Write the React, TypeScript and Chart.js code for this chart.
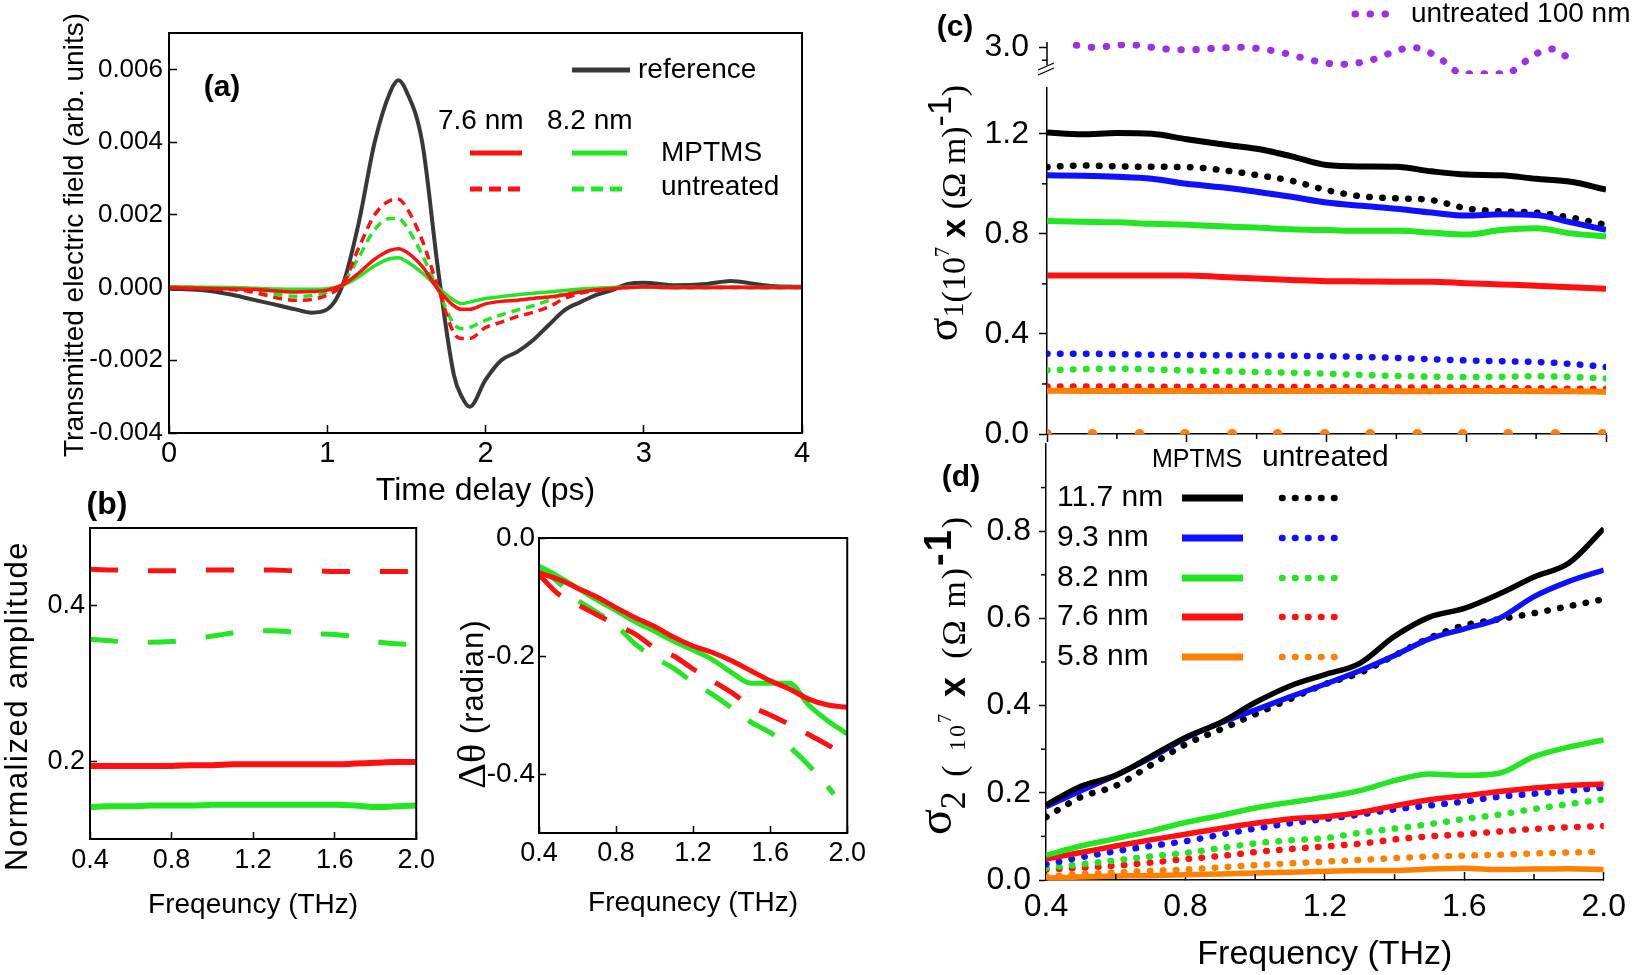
import React, { useEffect, useRef } from 'react';
import { Chart, registerables } from 'chart.js';

Chart.register(...registerables);

const SANS = '"Liberation Sans", Arial, Helvetica, sans-serif';
const SERIF = '"Liberation Serif", "Times New Roman", serif';

const RED = '#ff1010';
const GREEN = '#22e622';
const BLUE = '#1010ff';
const BLACK = '#000000';
const ORANGE = '#ff8000';
const PURPLE = '#9b30e8';
const GREY = '#383838';

// ===== (a) transmitted field vs time delay =====
const A_TIME = [0, 0.2, 0.4, 0.5, 0.6, 0.7, 0.8, 0.9, 1.0, 1.1, 1.2, 1.3, 1.4, 1.45, 1.5, 1.6, 1.7, 1.8, 1.85, 1.9, 2.0, 2.1, 2.2, 2.3, 2.4, 2.5, 2.6, 2.7, 2.8, 2.9, 3.0, 3.2, 3.4, 3.55, 3.7, 3.8, 4.0];
const A_REFERENCE = [-0.00003, -0.00007, -0.0002, -0.0003, -0.0004, -0.0005, -0.0006, -0.00069, -0.0006, 0.0001, 0.0018, 0.004, 0.0054, 0.0057, 0.0054, 0.004, 0.0005, -0.0024, -0.003, -0.00328, -0.00254, -0.002, -0.00177, -0.00145, -0.00103, -0.00062, -0.0004, -0.0002, -0.00007, 0.0001, 0.00013, 0.00006, 0.0001, 0.00018, 0.0001, 0.00004, 0.00002];
const A_MPTMS_76 = [0, -0.00002, -0.00004, -0.00005, -0.00007, -0.0001, -0.00012, -0.00011, -0.00007, 0.00008, 0.0004, 0.00078, 0.00103, 0.00107, 0.00098, 0.00058, -0.00005, -0.0005, -0.0006, -0.0006, -0.00045, -0.00038, -0.00035, -0.0003, -0.00026, -0.0002, -0.00012, -0.00006, -0.00003, 0, 0.00002, 0, 0, 0.00001, 0, 0, 0];
const A_MPTMS_82 = [0.00002, 0.00001, 0, -0.00001, -0.00003, -0.00004, -0.00005, -0.00005, -0.00003, 0.00006, 0.0003, 0.0006, 0.0008, 0.00082, 0.00072, 0.0004, 0, -0.00035, -0.00044, -0.0004, -0.0003, -0.00025, -0.0002, -0.00016, -0.00012, -0.00008, -0.00004, -0.00002, 0, 0.00001, 0.00001, 0, 0, 0, 0, 0, 0];
const A_UNTREATED_76 = [0, -0.00003, -0.00006, -0.0001, -0.0002, -0.0003, -0.00035, -0.00033, -0.0002, 0.0001, 0.0011, 0.002, 0.0024, 0.00243, 0.0022, 0.0013, 0, -0.00125, -0.0014, -0.0014, -0.0011, -0.00095, -0.0008, -0.00068, -0.00053, -0.0003, -0.00016, -0.00008, -0.00003, 0, 0.00001, 0, 0, 0, 0, 0, 0];
const A_UNTREATED_82 = [0.00002, 0, -0.00003, -0.00006, -0.00012, -0.0002, -0.00024, -0.00022, -0.00012, 0.00013, 0.00084, 0.0016, 0.0019, 0.0019, 0.00168, 0.0009, -0.00007, -0.001, -0.00113, -0.0011, -0.0009, -0.00075, -0.00062, -0.0005, -0.00035, -0.00016, -0.00008, -0.00003, 0, 0, 0, 0, 0, 0, 0, 0, 0];
const A_X_TICKS = [0, 1, 2, 3, 4];
const A_Y_TICKS = [-0.004, -0.002, 0, 0.002, 0.004, 0.006];

// ===== (b) amplitude and phase =====
const B_FREQ = [0.4, 0.5, 0.6, 0.7, 0.8, 0.9, 1.0, 1.1, 1.2, 1.3, 1.4, 1.5, 1.6, 1.7, 1.8, 1.9, 2.0];
const B_AMP_UNTREATED_76 = [0.447, 0.446, 0.446, 0.445, 0.445, 0.446, 0.446, 0.446, 0.446, 0.446, 0.445, 0.445, 0.444, 0.444, 0.444, 0.444, 0.444];
const B_AMP_UNTREATED_82 = [0.357, 0.355, 0.353, 0.353, 0.354, 0.357, 0.361, 0.365, 0.368, 0.368, 0.366, 0.364, 0.363, 0.36, 0.354, 0.351, 0.35];
const B_AMP_MPTMS_76 = [0.194, 0.194, 0.194, 0.194, 0.194, 0.195, 0.195, 0.196, 0.196, 0.196, 0.196, 0.196, 0.196, 0.197, 0.198, 0.199, 0.199];
const B_AMP_MPTMS_82 = [0.141, 0.142, 0.142, 0.143, 0.143, 0.143, 0.144, 0.144, 0.144, 0.144, 0.144, 0.144, 0.144, 0.143, 0.141, 0.142, 0.143];
const B_PH_MPTMS_76 = [-0.059, -0.07, -0.085, -0.1, -0.118, -0.135, -0.15, -0.168, -0.183, -0.194, -0.208, -0.225, -0.242, -0.256, -0.273, -0.283, -0.287];
const B_PH_MPTMS_82 = [-0.048, -0.065, -0.085, -0.105, -0.123, -0.142, -0.158, -0.175, -0.19, -0.206, -0.228, -0.246, -0.246, -0.246, -0.283, -0.31, -0.332];
const B_PH_UNTREATED_76 = [-0.062, -0.095, -0.113, -0.13, -0.147, -0.163, -0.186, -0.2, -0.222, -0.242, -0.262, -0.285, -0.3, -0.316, -0.333, -0.351, -0.369];
const B_FREQ_UNTREATED_82 = [0.4, 0.5, 0.6, 0.7, 0.8, 0.9, 1.0, 1.1, 1.2, 1.3, 1.4, 1.5, 1.6, 1.7, 1.8, 1.9, 1.93];
const B_PH_UNTREATED_82 = [-0.05, -0.075, -0.105, -0.126, -0.148, -0.18, -0.203, -0.221, -0.245, -0.265, -0.288, -0.312, -0.33, -0.354, -0.385, -0.422, -0.434];
const B_X_TICKS = [0.4, 0.8, 1.2, 1.6, 2.0];
const B_AMP_TICKS = [0.2, 0.4];
const B_PH_TICKS = [0, -0.2, -0.4];

// ===== (c) sigma1 =====
const C_FREQ = [0.4, 0.5, 0.6, 0.7, 0.8, 0.9, 1.0, 1.1, 1.2, 1.3, 1.4, 1.5, 1.6, 1.7, 1.8, 1.9, 2.0];
const C_MPTMS_117 = [1.205, 1.198, 1.203, 1.2, 1.178, 1.158, 1.14, 1.11, 1.075, 1.069, 1.068, 1.05, 1.037, 1.034, 1.02, 1.008, 0.977];
const C_MPTMS_93 = [1.034, 1.032, 1.028, 1.02, 1.0, 0.986, 0.968, 0.948, 0.925, 0.912, 0.9, 0.885, 0.873, 0.878, 0.875, 0.846, 0.816];
const C_MPTMS_82 = [0.851, 0.848, 0.846, 0.84, 0.836, 0.83, 0.825, 0.818, 0.815, 0.812, 0.812, 0.805, 0.797, 0.815, 0.822, 0.802, 0.789];
const C_MPTMS_76 = [0.634, 0.634, 0.634, 0.634, 0.634, 0.628, 0.622, 0.616, 0.611, 0.61, 0.609, 0.609, 0.603, 0.598, 0.593, 0.587, 0.581];
const C_MPTMS_58 = [0.173, 0.172, 0.172, 0.172, 0.172, 0.172, 0.172, 0.172, 0.172, 0.172, 0.171, 0.171, 0.172, 0.172, 0.171, 0.171, 0.169];
const C_UNTREATED_117 = [1.067, 1.073, 1.07, 1.068, 1.067, 1.055, 1.035, 1.012, 0.975, 0.95, 0.942, 0.935, 0.902, 0.89, 0.885, 0.865, 0.836];
const C_UNTREATED_93 = [0.321, 0.321, 0.319, 0.317, 0.316, 0.315, 0.314, 0.313, 0.311, 0.308, 0.304, 0.299, 0.294, 0.291, 0.288, 0.28, 0.268];
const C_UNTREATED_82 = [0.255, 0.259, 0.261, 0.258, 0.254, 0.251, 0.248, 0.245, 0.241, 0.236, 0.232, 0.229, 0.228, 0.229, 0.231, 0.228, 0.222];
const C_UNTREATED_76 = [0.19, 0.19, 0.19, 0.189, 0.189, 0.188, 0.188, 0.188, 0.187, 0.187, 0.186, 0.186, 0.185, 0.184, 0.183, 0.181, 0.18];
const C_FREQ_UNTREATED_58 = [0.4, 0.53, 0.665, 0.795, 0.93, 1.06, 1.195, 1.325, 1.46, 1.59, 1.72, 1.855, 1.99];
const C_UNTREATED_58 = [0, 0, 0, 0, 0, 0, 0, 0, 0, 0, 0, 0, 0];
const C_FREQ_100 = [0.484, 0.53, 0.57, 0.615, 0.66, 0.7, 0.74, 0.78, 0.83, 0.87, 0.91, 0.955, 0.997, 1.04, 1.08, 1.12, 1.16, 1.2, 1.245, 1.285, 1.33, 1.364, 1.405, 1.445, 1.48, 1.517, 1.547, 1.585, 1.65, 1.72, 1.745, 1.775, 1.81, 1.848, 1.88, 1.91];
const C_UNTREATED_100 = [3.016, 3.0, 3.006, 3.019, 3.016, 3.0, 2.987, 2.981, 2.983, 2.99, 2.996, 3.0, 2.993, 2.977, 2.954, 2.927, 2.899, 2.877, 2.869, 2.877, 2.902, 2.936, 2.977, 3.0, 2.977, 2.927, 2.869, 2.796, 2.795, 2.796, 2.842, 2.902, 2.963, 2.987, 2.94, 2.874];
const C_X_TICKS = [0.4, 0.8, 1.2, 1.6, 2.0];
const C_X_MINOR = [0.6, 1.0, 1.4, 1.8];
const C_Y_TICKS = [0, 0.4, 0.8, 1.2];
const C_Y_MINOR = [0.2, 0.6, 1.0];
const C_UPPER_TICKS = [3.0];
const C_UPPER_MINOR = [2.9];

// ===== (d) sigma2 =====
const D_FREQ = [0.4, 0.5, 0.6, 0.7, 0.8, 0.9, 1.0, 1.1, 1.2, 1.3, 1.4, 1.5, 1.6, 1.7, 1.8, 1.9, 2.0];
const D_MPTMS_117 = [0.172, 0.215, 0.24, 0.283, 0.327, 0.361, 0.407, 0.445, 0.471, 0.497, 0.559, 0.603, 0.623, 0.656, 0.695, 0.727, 0.806];
const D_MPTMS_93 = [0.168, 0.205, 0.24, 0.28, 0.325, 0.36, 0.39, 0.42, 0.449, 0.48, 0.515, 0.553, 0.576, 0.6, 0.65, 0.685, 0.711];
const D_MPTMS_82 = [0.057, 0.078, 0.095, 0.112, 0.132, 0.148, 0.165, 0.178, 0.19, 0.205, 0.228, 0.243, 0.24, 0.245, 0.283, 0.305, 0.321];
const D_MPTMS_76 = [0.048, 0.063, 0.078, 0.092, 0.105, 0.118, 0.13, 0.14, 0.145, 0.155, 0.17, 0.184, 0.193, 0.203, 0.211, 0.217, 0.22];
const D_MPTMS_58 = [0.004, 0.007, 0.009, 0.01, 0.012, 0.014, 0.016, 0.018, 0.02, 0.022, 0.022, 0.025, 0.027, 0.024, 0.025, 0.026, 0.024];
const D_UNTREATED_117 = [0.144, 0.19, 0.216, 0.263, 0.311, 0.345, 0.38, 0.415, 0.449, 0.475, 0.515, 0.555, 0.584, 0.598, 0.612, 0.628, 0.644];
const D_UNTREATED_93 = [0.036, 0.052, 0.066, 0.078, 0.089, 0.104, 0.118, 0.13, 0.14, 0.15, 0.162, 0.171, 0.18, 0.191, 0.198, 0.205, 0.212];
const D_UNTREATED_82 = [0.028, 0.036, 0.045, 0.054, 0.062, 0.073, 0.084, 0.091, 0.096, 0.108, 0.118, 0.128, 0.14, 0.15, 0.163, 0.174, 0.185];
const D_UNTREATED_76 = [0.024, 0.028, 0.033, 0.04, 0.048, 0.055, 0.064, 0.071, 0.077, 0.083, 0.093, 0.1, 0.105, 0.111, 0.117, 0.121, 0.124];
const D_UNTREATED_58 = [0.008, 0.013, 0.017, 0.021, 0.024, 0.029, 0.034, 0.038, 0.042, 0.046, 0.05, 0.054, 0.056, 0.058, 0.061, 0.063, 0.065];
const D_X_TICKS = [0.4, 0.8, 1.2, 1.6, 2.0];
const D_X_MINOR = [0.6, 1.0, 1.4, 1.8];
const D_Y_TICKS = [0, 0.2, 0.4, 0.6, 0.8];
const D_Y_MINOR = [0.1, 0.3, 0.5, 0.7, 0.9];
const D_LEGEND_ROWS = ['11.7 nm', '9.3 nm', '8.2 nm', '7.6 nm', '5.8 nm'];

// ---------- helpers ----------
const DOT = [0.5, 12.5];

function series(label: string, xs: number[], ys: number[], color: string, width: number, dash: number[] = [], cap: string = 'butt') {
  return {
    label,
    data: xs.map((x, i) => ({ x, y: ys[i] })),
    borderColor: color,
    backgroundColor: color,
    borderWidth: width,
    borderDash: dash,
    borderCapStyle: cap,
    pointRadius: 0,
    pointHoverRadius: 0,
    cubicInterpolationMode: 'monotone',
    fill: false,
  };
}

type AxisOpt = {
  min: number; max: number; ticks: number[]; fmt: (v: number) => string; size: number; horizontal: boolean;
  fontSize: number; tickLen: number; pad: number; border?: boolean; display?: boolean;
  title?: string; titleSize?: number; titlePadBottom?: number;
};

function axis(o: AxisOpt) {
  return {
    type: 'linear',
    display: o.display ?? true,
    min: o.min,
    max: o.max,
    afterBuildTicks: (s: any) => { s.ticks = o.ticks.map((v) => ({ value: v })); },
    afterFit: (s: any) => { if (o.horizontal) s.height = o.size; else s.width = o.size; },
    grid: { display: true, drawOnChartArea: false, drawTicks: true, tickLength: o.tickLen, tickColor: '#000', tickWidth: 1.5 },
    border: { display: !!o.border, color: '#000', width: 1.5 },
    ticks: {
      autoSkip: false, maxRotation: 0, minRotation: 0, padding: o.pad, color: '#000',
      font: { family: SANS, size: o.fontSize, lineHeight: 1 },
      callback: (v: any) => o.fmt(Number(v)),
    },
    title: o.title
      ? { display: true, text: o.title, color: '#000', font: { family: SANS, size: o.titleSize, lineHeight: 1 }, padding: { top: 0, bottom: o.titlePadBottom ?? 0 } }
      : { display: false },
  };
}

type Run = { text: string; font: string; dy?: number; ls?: number };
type Txt = { text?: string; font?: string; ls?: number; runs?: Run[]; x: number; y: number; align?: string; rotate?: number; baseline?: string; color?: string };
type Smp = { ds: number; x1: number; x2: number; y: number; width?: number; dash?: number[] };

function runWidth(ctx: CanvasRenderingContext2D, r: Run) {
  ctx.font = r.font;
  const ls = r.ls || 0;
  if (!ls) return ctx.measureText(r.text).width;
  let w = 0;
  for (const ch of r.text) w += ctx.measureText(ch).width + ls;
  return w;
}

function overlayPlugin(ox: number, oy: number, texts: Txt[], samples: Smp[] = []) {
  return {
    id: 'overlay',
    afterDraw(chart: any) {
      const ctx = chart.ctx as CanvasRenderingContext2D;
      samples.forEach((s) => {
        const ds = chart.data.datasets[s.ds];
        ctx.save();
        ctx.strokeStyle = ds.borderColor;
        ctx.lineWidth = s.width ?? ds.borderWidth;
        ctx.setLineDash(s.dash ?? ds.borderDash ?? []);
        ctx.lineCap = ds.borderCapStyle || 'butt';
        ctx.beginPath();
        ctx.moveTo(s.x1 - ox, s.y - oy);
        ctx.lineTo(s.x2 - ox, s.y - oy);
        ctx.stroke();
        ctx.restore();
      });
      texts.forEach((t) => {
        ctx.save();
        ctx.translate(t.x - ox, t.y - oy);
        if (t.rotate) ctx.rotate(t.rotate);
        ctx.fillStyle = t.color || '#000';
        ctx.textBaseline = (t.baseline || 'middle') as CanvasTextBaseline;
        ctx.textAlign = 'left';
        const runs: Run[] = t.runs || [{ text: t.text || '', font: t.font || `24px ${SANS}`, ls: t.ls }];
        let total = 0;
        runs.forEach((r) => { total += runWidth(ctx, r); });
        let cx = t.align === 'center' ? -total / 2 : t.align === 'right' ? -total : 0;
        runs.forEach((r) => {
          ctx.font = r.font;
          if (r.ls) {
            for (const ch of r.text) {
              ctx.fillText(ch, cx, r.dy || 0);
              cx += ctx.measureText(ch).width + r.ls;
            }
          } else {
            ctx.fillText(r.text, cx, r.dy || 0);
            cx += ctx.measureText(r.text).width;
          }
        });
        ctx.restore();
      });
    },
  };
}

function framePlugin() {
  return {
    id: 'frame',
    afterDatasetsDraw(chart: any) {
      const { ctx, chartArea: a } = chart;
      ctx.save();
      ctx.strokeStyle = '#000';
      ctx.lineWidth = 2;
      ctx.strokeRect(a.left, a.top, a.right - a.left, a.bottom - a.top);
      ctx.restore();
    },
  };
}

function minorPlugin(xs: number[], xLen: number, ys: number[], yLen: number) {
  return {
    id: 'minor',
    afterDraw(chart: any) {
      const { ctx, chartArea: a, scales } = chart;
      ctx.save();
      ctx.strokeStyle = '#000';
      ctx.lineWidth = 1.5;
      xs.forEach((v) => {
        const p = scales.x.getPixelForValue(v);
        ctx.beginPath(); ctx.moveTo(p, a.bottom); ctx.lineTo(p, a.bottom + xLen); ctx.stroke();
      });
      ys.forEach((v) => {
        const p = scales.y.getPixelForValue(v);
        ctx.beginPath(); ctx.moveTo(a.left, p); ctx.lineTo(a.left - yLen, p); ctx.stroke();
      });
      ctx.restore();
    },
  };
}

function breakPlugin(gap: number) {
  return {
    id: 'axisBreak',
    afterDraw(chart: any) {
      const { ctx, chartArea: a } = chart;
      const x = a.left;
      const yEnd = a.bottom - gap;
      ctx.save();
      ctx.strokeStyle = '#000';
      ctx.lineWidth = 1.5;
      ctx.beginPath(); ctx.moveTo(x, a.top); ctx.lineTo(x, yEnd); ctx.stroke();
      ctx.lineWidth = 1.3;
      [0, 5].forEach((d) => {
        ctx.beginPath(); ctx.moveTo(x - 9, yEnd + 5 + d); ctx.lineTo(x + 7, yEnd - 2 + d); ctx.stroke();
      });
      ctx.restore();
    },
  };
}

function baseOptions(padding: any, scales: any) {
  return {
    animation: false,
    responsive: false,
    maintainAspectRatio: false,
    devicePixelRatio: 1,
    events: [],
    layout: { padding },
    plugins: { legend: { display: false }, tooltip: { enabled: false } },
    scales,
  };
}

const f1 = (v: number) => v.toFixed(1);
const f3 = (v: number) => v.toFixed(3);
const ROT = -Math.PI / 2;

// ---------- panel configs ----------
function makeA() {
  const ox = 0, oy = 0;
  return {
    type: 'line',
    data: {
      datasets: [
        series('7.6 nm MPTMS', A_TIME, A_MPTMS_76, RED, 3.5),
        series('8.2 nm MPTMS', A_TIME, A_MPTMS_82, GREEN, 3.5),
        series('7.6 nm untreated', A_TIME, A_UNTREATED_76, RED, 3.5, [9, 6]),
        series('8.2 nm untreated', A_TIME, A_UNTREATED_82, GREEN, 3.5, [9, 6]),
        series('reference', A_TIME, A_REFERENCE, GREY, 4),
      ],
    },
    options: baseOptions({ left: 0, top: 33, right: 28, bottom: 0 }, {
      x: axis({ min: 0, max: 4, ticks: A_X_TICKS, fmt: (v) => String(v), size: 77, horizontal: true, fontSize: 29, tickLen: -8, pad: 14, title: 'Time delay (ps)', titleSize: 32, titlePadBottom: 3 }),
      y: axis({ min: -0.004, max: 0.007, ticks: A_Y_TICKS, fmt: f3, size: 169, horizontal: false, fontSize: 26, tickLen: -8, pad: 14 }),
    }),
    plugins: [
      framePlugin(),
      overlayPlugin(ox, oy, [
        { text: 'Transmitted electric field (arb. units)', font: `28px ${SANS}`, x: 75, y: 235, align: 'center', rotate: ROT },
        { text: '(a)', font: `bold 30px ${SANS}`, x: 222, y: 88, align: 'center' },
        { text: 'reference', font: `28px ${SANS}`, x: 638, y: 70 },
        { text: '7.6 nm', font: `28px ${SANS}`, x: 438, y: 121 },
        { text: '8.2 nm', font: `28px ${SANS}`, x: 547, y: 121 },
        { text: 'MPTMS', font: `28px ${SANS}`, x: 661, y: 153 },
        { text: 'untreated', font: `28px ${SANS}`, x: 661, y: 187 },
      ], [
        { ds: 4, x1: 572, x2: 630, y: 70, width: 5 },
        { ds: 0, x1: 470, x2: 522, y: 153, width: 5 },
        { ds: 1, x1: 572, x2: 627, y: 153, width: 5 },
        { ds: 2, x1: 470, x2: 522, y: 189, width: 5, dash: [12, 7] },
        { ds: 3, x1: 572, x2: 627, y: 189, width: 5, dash: [12, 7] },
      ]),
    ],
  };
}

function makeB1() {
  const ox = 0, oy = 470;
  return {
    type: 'line',
    data: {
      datasets: [
        series('7.6 nm MPTMS', B_FREQ, B_AMP_MPTMS_76, RED, 6),
        series('8.2 nm MPTMS', B_FREQ, B_AMP_MPTMS_82, GREEN, 6),
        series('7.6 nm untreated', B_FREQ, B_AMP_UNTREATED_76, RED, 5, [28, 30]),
        series('8.2 nm untreated', B_FREQ, B_AMP_UNTREATED_82, GREEN, 5, [28, 30]),
      ],
    },
    options: baseOptions({ left: 0, top: 58, right: 17, bottom: 0 }, {
      x: axis({ min: 0.4, max: 2.0, ticks: B_X_TICKS, fmt: f1, size: 91, horizontal: true, fontSize: 27, tickLen: -7, pad: 15, title: 'Freqeuncy (THz)', titleSize: 28, titlePadBottom: 11 }),
      y: axis({ min: 0.1, max: 0.5, ticks: B_AMP_TICKS, fmt: f1, size: 90, horizontal: false, fontSize: 27, tickLen: -7, pad: 12 }),
    }),
    plugins: [
      framePlugin(),
      overlayPlugin(ox, oy, [
        { text: 'Normalized amplitude', font: `31px ${SANS}`, ls: 1.5, x: 18, y: 706, align: 'center', rotate: ROT },
        { text: '(b)', font: `bold 32px ${SANS}`, x: 107, y: 505, align: 'center' },
      ]),
    ],
  };
}

function makeB2() {
  const ox = 440, oy = 500;
  return {
    type: 'line',
    data: {
      datasets: [
        series('7.6 nm MPTMS', B_FREQ, B_PH_MPTMS_76, RED, 5),
        series('8.2 nm MPTMS', B_FREQ, B_PH_MPTMS_82, GREEN, 5),
        series('7.6 nm untreated', B_FREQ, B_PH_UNTREATED_76, RED, 5, [30, 22]),
        series('8.2 nm untreated', B_FREQ_UNTREATED_82, B_PH_UNTREATED_82, GREEN, 5, [30, 22]),
      ],
    },
    options: baseOptions({ left: 0, top: 38, right: 17, bottom: 0 }, {
      x: axis({ min: 0.4, max: 2.0, ticks: B_X_TICKS, fmt: f1, size: 97, horizontal: true, fontSize: 27, tickLen: -7, pad: 14, title: 'Frequnecy (THz)', titleSize: 28, titlePadBottom: 13 }),
      y: axis({ min: -0.5, max: 0, ticks: B_PH_TICKS, fmt: f1, size: 99, horizontal: false, fontSize: 28, tickLen: -7, pad: 11 }),
    }),
    plugins: [
      framePlugin(),
      overlayPlugin(ox, oy, [
        { runs: [{ text: 'Δθ', font: `40px ${SERIF}` }, { text: ' (radian)', font: `31px ${SANS}`, ls: 1 }], x: 474, y: 704, align: 'center', rotate: ROT },
      ]),
    ],
  };
}

function makeCU() {
  const ox = 900, oy = 0;
  return {
    type: 'line',
    data: {
      datasets: [
        series('untreated 100 nm', C_FREQ_100, C_UNTREATED_100, PURPLE, 7, [0.5, 14.5], 'round'),
      ],
    },
    options: baseOptions({ left: 0, top: 42, right: 39, bottom: 14 }, {
      x: { type: 'linear', display: false, min: 0.4, max: 2.0 },
      y: axis({ min: 2.793, max: 3.041, ticks: C_UPPER_TICKS, fmt: f1, size: 147, horizontal: false, fontSize: 32, tickLen: 8, pad: 10 }),
    }),
    plugins: [
      breakPlugin(9),
      minorPlugin([], 0, C_UPPER_MINOR, 5),
      overlayPlugin(ox, oy, [
        { text: '(c)', font: `bold 30px ${SANS}`, x: 955, y: 28, align: 'center' },
        { text: 'untreated 100 nm', font: `28px ${SANS}`, x: 1411, y: 14 },
      ], [
        { ds: 0, x1: 1355, x2: 1400, y: 14 },
      ]),
    ],
  };
}

function makeCL() {
  const ox = 900, oy = 40;
  return {
    type: 'line',
    data: {
      datasets: [
        series('11.7 nm MPTMS', C_FREQ, C_MPTMS_117, BLACK, 6),
        series('9.3 nm MPTMS', C_FREQ, C_MPTMS_93, BLUE, 6),
        series('8.2 nm MPTMS', C_FREQ, C_MPTMS_82, GREEN, 6),
        series('7.6 nm MPTMS', C_FREQ, C_MPTMS_76, RED, 6),
        series('5.8 nm MPTMS', C_FREQ, C_MPTMS_58, ORANGE, 6),
        series('11.7 nm untreated', C_FREQ, C_UNTREATED_117, BLACK, 6.5, DOT, 'round'),
        series('9.3 nm untreated', C_FREQ, C_UNTREATED_93, BLUE, 6.5, DOT, 'round'),
        series('8.2 nm untreated', C_FREQ, C_UNTREATED_82, GREEN, 6.5, DOT, 'round'),
        series('7.6 nm untreated', C_FREQ, C_UNTREATED_76, RED, 6.5, DOT, 'round'),
        {
          label: '5.8 nm untreated',
          data: C_FREQ_UNTREATED_58.map((x, i) => ({ x, y: C_UNTREATED_58[i] })),
          showLine: false, pointRadius: 5, pointBorderWidth: 0, pointBackgroundColor: ORANGE, borderColor: ORANGE, backgroundColor: ORANGE,
        },
      ],
    },
    options: baseOptions({ left: 0, top: 48, right: 39, bottom: 0 }, {
      x: axis({ min: 0.4, max: 2.0, ticks: C_X_TICKS, fmt: () => '', size: 22, horizontal: true, fontSize: 10, tickLen: 8, pad: 0, border: true }),
      y: axis({ min: 0, max: 1.383, ticks: C_Y_TICKS, fmt: f1, size: 147, horizontal: false, fontSize: 32, tickLen: 8, pad: 10, border: true }),
    }),
    plugins: [
      minorPlugin(C_X_MINOR, 5, C_Y_MINOR, 5),
      overlayPlugin(ox, oy, [
        {
          runs: [
            { text: 'σ', font: `44px ${SERIF}`, dy: -8 },
            { text: '1', font: `30px ${SERIF}`, dy: -2 },
            { text: '(10', font: `34px ${SERIF}` },
            { text: '7', font: `20px ${SERIF}`, dy: -16 },
            { text: ' x ', font: `bold 34px ${SANS}` },
            { text: '(Ω m)', font: `34px ${SERIF}` },
            { text: '-1', font: `34px ${SANS}`, dy: -14 },
            { text: ')', font: `34px ${SERIF}` },
          ],
          x: 965, y: 213, align: 'center', rotate: ROT, baseline: 'alphabetic',
        },
      ]),
    ],
  };
}

function makeD() {
  const ox = 900, oy = 420;
  const rowsY = [498, 538, 578, 617, 657];
  const texts: Txt[] = [
    { text: '(d)', font: `bold 30px ${SANS}`, x: 961, y: 478, align: 'center' },
    { text: 'MPTMS', font: `25px ${SANS}`, x: 1152, y: 460 },
    { text: 'untreated', font: `30px ${SANS}`, x: 1262, y: 458 },
    {
      runs: [
        { text: 'σ', font: `48px ${SERIF}`, dy: -14 },
        { text: '2', font: `36px ${SERIF}`, ls: 3 },
        { text: ' ( ', font: `34px ${SERIF}`, ls: 3 },
        { text: '10', font: `24px ${SERIF}`, ls: 2 },
        { text: '7', font: `18px ${SERIF}`, dy: -14, ls: 3 },
        { text: ' x ', font: `bold 36px ${SANS}`, ls: 4 },
        { text: '(Ω m)', font: `34px ${SERIF}`, ls: 2 },
        { text: '-1', font: `bold 38px ${SANS}`, dy: -14, ls: 2 },
        { text: ')', font: `34px ${SERIF}` },
      ],
      x: 965, y: 676, align: 'center', rotate: ROT, baseline: 'alphabetic',
    },
  ];
  const samples: Smp[] = [];
  D_LEGEND_ROWS.forEach((name, i) => {
    texts.push({ text: name, font: `30px ${SANS}`, x: 1057, y: rowsY[i] });
    samples.push({ ds: i, x1: 1182, x2: 1243, y: rowsY[i], width: 7 });
    samples.push({ ds: i + 5, x1: 1282, x2: 1335, y: rowsY[i] });
  });
  return {
    type: 'line',
    data: {
      datasets: [
        series('11.7 nm MPTMS', D_FREQ, D_MPTMS_117, BLACK, 5.5),
        series('9.3 nm MPTMS', D_FREQ, D_MPTMS_93, BLUE, 5.5),
        series('8.2 nm MPTMS', D_FREQ, D_MPTMS_82, GREEN, 5.5),
        series('7.6 nm MPTMS', D_FREQ, D_MPTMS_76, RED, 5.5),
        series('5.8 nm MPTMS', D_FREQ, D_MPTMS_58, ORANGE, 5.5),
        series('11.7 nm untreated', D_FREQ, D_UNTREATED_117, BLACK, 6.5, DOT, 'round'),
        series('9.3 nm untreated', D_FREQ, D_UNTREATED_93, BLUE, 6.5, DOT, 'round'),
        series('8.2 nm untreated', D_FREQ, D_UNTREATED_82, GREEN, 6.5, DOT, 'round'),
        series('7.6 nm untreated', D_FREQ, D_UNTREATED_76, RED, 6.5, DOT, 'round'),
        series('5.8 nm untreated', D_FREQ, D_UNTREATED_58, ORANGE, 6.5, DOT, 'round'),
      ],
    },
    options: baseOptions({ left: 0, top: 18, right: 25, bottom: 0 }, {
      x: axis({ min: 0.4, max: 2.0, ticks: D_X_TICKS, fmt: f1, size: 95, horizontal: true, fontSize: 32, tickLen: -8, pad: 19, border: true, title: 'Frequency (THz)', titleSize: 34, titlePadBottom: 3 }),
      y: axis({ min: 0, max: 1.0, ticks: D_Y_TICKS, fmt: f1, size: 146, horizontal: false, fontSize: 32, tickLen: 7, pad: 8, border: true }),
    }),
    plugins: [
      minorPlugin(D_X_MINOR, -6, D_Y_MINOR, 5),
      overlayPlugin(ox, oy, texts, samples),
    ],
  };
}

function ChartBox({ left, top, width, height, make }: { left: number; top: number; width: number; height: number; make: () => any }) {
  const ref = useRef<HTMLCanvasElement>(null);
  useEffect(() => {
    const chart = new Chart(ref.current as HTMLCanvasElement, make());
    return () => chart.destroy();
  }, []);
  return (
    <canvas
      ref={ref}
      width={width}
      height={height}
      style={{ position: 'absolute', left, top, width, height }}
    />
  );
}

export default function App() {
  return (
    <div style={{ position: 'absolute', left: 0, top: 0, width: 1645, height: 975, background: '#ffffff', overflow: 'hidden' }}>
      <ChartBox left={0} top={0} width={830} height={510} make={makeA} />
      <ChartBox left={0} top={470} width={450} height={460} make={makeB1} />
      <ChartBox left={440} top={500} width={440} height={430} make={makeB2} />
      <ChartBox left={900} top={0} width={745} height={100} make={makeCU} />
      <ChartBox left={900} top={40} width={745} height={420} make={makeCL} />
      <ChartBox left={900} top={420} width={745} height={555} make={makeD} />
    </div>
  );
}
